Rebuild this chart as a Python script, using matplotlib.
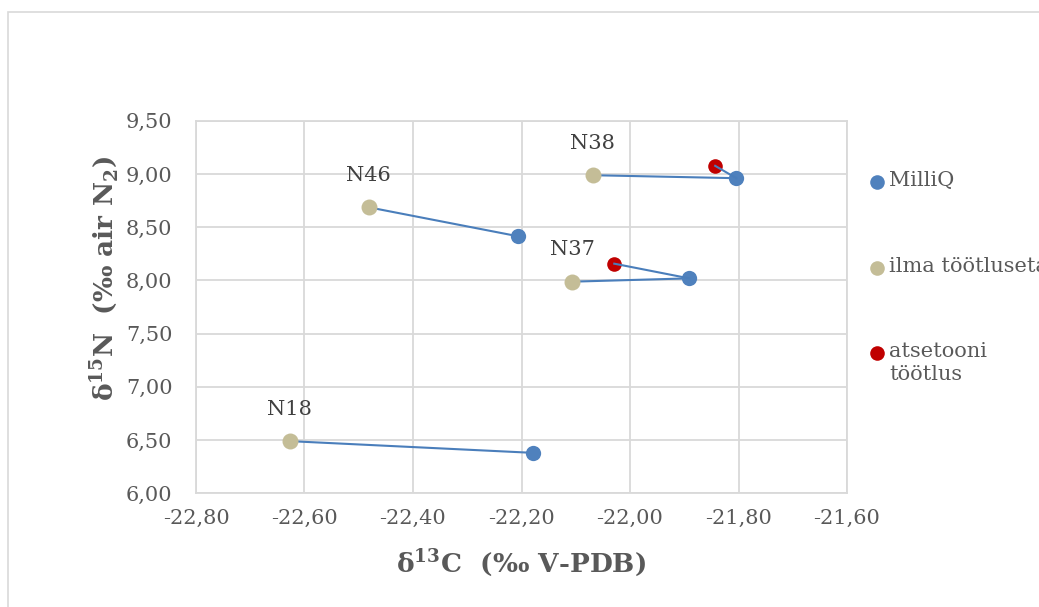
import matplotlib
matplotlib.use("Agg")
import matplotlib.pyplot as plt
from matplotlib.lines import Line2D
from matplotlib.patches import Rectangle

# ---- data ----
samples = ["N18", "N46", "N37", "N38"]
# ilma töötluseta (untreated)
untreated_c = [-22.627, -22.482, -22.106, -22.069]
untreated_n = [6.49, 8.687, 7.988, 8.988]
# MilliQ
milliq_c = [-22.179, -22.206, -21.891, -21.804]
milliq_n = [6.38, 8.414, 8.019, 8.96]
# atsetooni töötlus (only N37, N38)
acetone_samples = ["N37", "N38"]
acetone_c = [-22.029, -21.843]
acetone_n = [8.157, 9.076]

x_ticks = [-22.80, -22.60, -22.40, -22.20, -22.00, -21.80, -21.60]
x_ticklabels = ["-22,80", "-22,60", "-22,40", "-22,20", "-22,00", "-21,80", "-21,60"]
y_ticks = [6.0, 6.5, 7.0, 7.5, 8.0, 8.5, 9.0, 9.5]
y_ticklabels = ["6,00", "6,50", "7,00", "7,50", "8,00", "8,50", "9,00", "9,50"]

legend_labels = ["MilliQ", "ilma töötluseta", "atsetooni\ntöötlus"]

BLUE = "#4F81BD"
TAN = "#C4BD97"
RED = "#C00000"
LINE = "#4A7EBB"
GRID = "#D9D9D9"
TXT = "#595959"
SERIF = ["DejaVu Serif", "Liberation Serif"]

plt.rcParams["font.family"] = SERIF
plt.rcParams["mathtext.fontset"] = "custom"
plt.rcParams["mathtext.rm"] = "DejaVu Serif"
plt.rcParams["mathtext.bf"] = "DejaVu Serif:bold"

fig = plt.figure(figsize=(10.39, 6.07), dpi=100)
fig.patches.append(Rectangle((8 / 1039, -0.1), 1.2, 1 - 12 / 607 + 0.1,
                             transform=fig.transFigure, fill=False,
                             edgecolor="#D9D9D9", linewidth=1.2))
ax = fig.add_axes([196 / 1039, 1 - 493.3 / 607, 651 / 1039, 372.6 / 607])

# connecting lines
for i, s in enumerate(samples):
    ax.plot([untreated_c[i], milliq_c[i]], [untreated_n[i], milliq_n[i]],
            color=LINE, lw=1.5, zorder=3)
for j, s in enumerate(acetone_samples):
    i = samples.index(s)
    ax.plot([acetone_c[j], milliq_c[i]], [acetone_n[j], milliq_n[i]],
            color=LINE, lw=1.5, zorder=5)

ax.plot(milliq_c, milliq_n, "o", color=BLUE, ms=11, mew=0, zorder=4)
ax.plot(untreated_c, untreated_n, "o", color=TAN, ms=11.5, mew=0, zorder=4)
ax.plot(acetone_c, acetone_n, "o", color=RED, ms=10.5, mew=0, zorder=4)

# sample labels
for i, s in enumerate(samples):
    ax.annotate(s, (untreated_c[i], untreated_n[i]), xytext=(0, 23),
                textcoords="offset points", ha="center", va="center",
                fontsize=15, color="#404040")

ax.set_xlim(x_ticks[0], x_ticks[-1])
ax.set_ylim(y_ticks[0], y_ticks[-1])
ax.set_xticks(x_ticks)
ax.set_xticklabels(x_ticklabels)
ax.set_yticks(y_ticks)
ax.set_yticklabels(y_ticklabels)
ax.tick_params(axis="both", length=0, labelsize=15, colors=TXT)
ax.tick_params(axis="x", pad=11)
ax.tick_params(axis="y", pad=17)
ax.grid(True, color=GRID, lw=1.3, zorder=0)
ax.set_axisbelow(True)
for sp in ax.spines.values():
    sp.set_color(GRID)
    sp.set_linewidth(1.3)

fig.text(521 / 1039, 1 - 563 / 607, r"$\mathbf{δ^{13}}$C  (‰ V-PDB)",
         ha="center", va="center", fontsize=19, fontweight="bold", color=TXT)
fig.text(105 / 1039, 1 - 279 / 607, r"$\mathbf{δ^{15}}$N  (‰ air N$_{\mathbf{2}}$)",
         ha="center", va="center", rotation=90, fontsize=19,
         fontweight="bold", color=TXT)

# legend (manual, outside plot area)
leg_colors = [BLUE, TAN, RED]
leg_y = [182, 268, 353]
for lab, c, y in zip(legend_labels, leg_colors, leg_y):
    fig.add_artist(Line2D([877 / 1039], [1 - y / 607], marker="o", color=c,
                          ms=10.5, mew=0, linestyle="none",
                          transform=fig.transFigure))
    fig.text(889 / 1039, 1 - (y - 11) / 607, lab, ha="left", va="top",
             fontsize=15, color=TXT, linespacing=1.25)

fig.savefig("out.png", dpi=100)
